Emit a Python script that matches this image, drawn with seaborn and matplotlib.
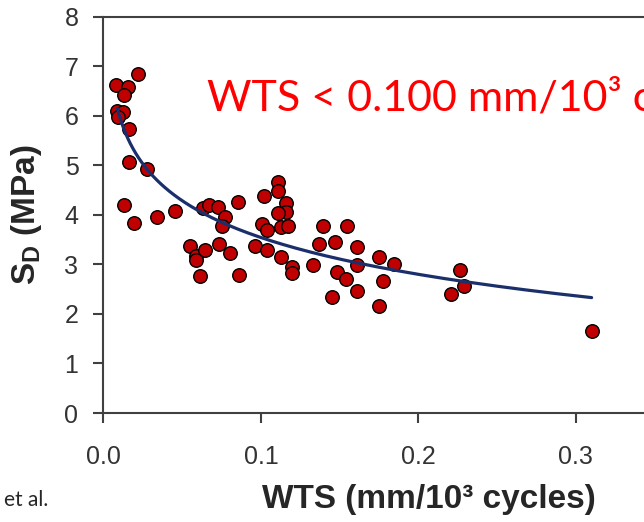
import numpy as np
import matplotlib
matplotlib.use('Agg')
from matplotlib import pyplot as plt
import seaborn as sns

# Wear track speed vs. strength
wts = [0.0221, 0.0079, 0.0158, 0.0132, 0.0084, 0.0126, 0.0094, 0.0162, 0.0162, 0.0274,
       0.0130, 0.0196, 0.0338, 0.0454, 0.0634, 0.0672, 0.0729, 0.0771, 0.0754, 0.0853,
       0.0549, 0.0585, 0.0585, 0.0647, 0.0731, 0.0803, 0.0613, 0.0858, 0.0960, 0.1036,
       0.1129, 0.1200, 0.1195, 0.1110, 0.1110, 0.1021, 0.1159, 0.1159, 0.1110, 0.1004,
       0.1040, 0.1125, 0.1173, 0.1392, 0.1548, 0.1370, 0.1470, 0.1328, 0.1610, 0.1607,
       0.1480, 0.1540, 0.1610, 0.1449, 0.1750, 0.1844, 0.1777, 0.1750, 0.2263, 0.2289,
       0.2206, 0.3100]
sd = [6.84, 6.63, 6.59, 6.42, 6.10, 6.08, 5.98, 5.73, 5.06, 4.93,
      4.20, 3.83, 3.95, 4.08, 4.13, 4.20, 4.16, 3.95, 3.78, 4.26,
      3.38, 3.16, 3.08, 3.30, 3.42, 3.23, 2.77, 2.79, 3.38, 3.29,
      3.15, 2.95, 2.82, 4.67, 4.49, 4.39, 4.23, 4.06, 4.04, 3.82,
      3.70, 3.75, 3.77, 3.78, 3.78, 3.41, 3.45, 2.99, 3.35, 2.99,
      2.85, 2.70, 2.47, 2.34, 3.15, 3.00, 2.66, 2.16, 2.89, 2.56,
      2.40, 1.66]

# log trend line of the original: SD = a + b*ln(WTS), drawn over its x span
fit_a = 1.074
fit_b = -1.072
fit_span = [0.0088, 0.31]

x_ticks = [0.0, 0.1, 0.2, 0.3]
x_tick_labels = ['0.0', '0.1', '0.2', '0.3']
y_ticks = [0, 1, 2, 3, 4, 5, 6, 7, 8]

fit_x = np.geomspace(fit_span[0], fit_span[1], 200)
fit_y = fit_a + fit_b * np.log(fit_x)

sns.set_style('ticks')
plt.rcParams['font.family'] = ['Liberation Sans', 'DejaVu Sans']
plt.rcParams['mathtext.fontset'] = 'custom'
plt.rcParams['mathtext.rm'] = 'Liberation Sans:bold'

fig = plt.figure(figsize=(6.44, 5.22), dpi=100)
# axes run past the right edge, the original picture is cropped there
ax = fig.add_axes([0.1607, 0.2088, 0.978, 0.7592])

sns.scatterplot(x=wts, y=sd, ax=ax, s=95, color='#C00000', edgecolor='black',
                linewidth=1, zorder=2)
sns.lineplot(x=fit_x, y=fit_y, ax=ax, color='#1B2F6B', lw=2.3, zorder=3,
             estimator=None, sort=False)

ax.set_xlim(0, 0.4)
ax.set_ylim(0, 8)
ax.set_xticks(x_ticks, x_tick_labels)
ax.set_yticks(y_ticks)

ax.spines['right'].set_visible(False)
for side in ['left', 'bottom', 'top']:
    ax.spines[side].set_color('#404040')
    ax.spines[side].set_linewidth(1.5)
ax.tick_params(direction='out', length=7, width=1.5, color='#404040',
               labelsize=18, labelcolor='#333333')
ax.tick_params(axis='x', pad=16)
ax.tick_params(axis='y', pad=11)

ax.set_xlabel('WTS (mm/10³ cycles)', fontsize=24, fontweight='bold')
ax.xaxis.set_label_coords((429 - 103.5) / 630, -0.18)
ax.set_ylabel(r'$\mathrm{S_D}$ (MPa)', fontsize=24, fontweight='bold')
ax.yaxis.set_label_coords((44 - 103.5) / 630, 0.5)

fig.text(207 / 644, 1 - 111 / 522, 'WTS < 0.100 mm/10³ cycles', color='red',
         fontsize=31, family=['Lato', 'DejaVu Sans'], va='baseline')
fig.text(4 / 644, 1 - 500 / 522, 'et al.', fontsize=15,
         family=['Lato', 'DejaVu Sans'], va='center')

fig.savefig('out.png', dpi=100)
